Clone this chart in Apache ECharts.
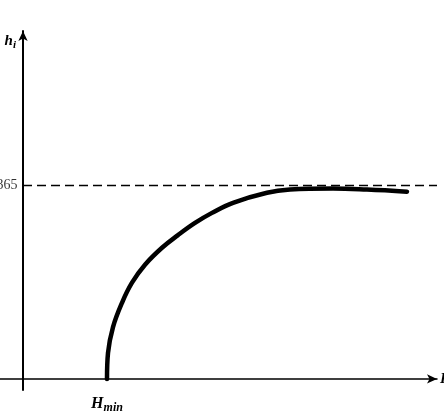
<!DOCTYPE html>
<html>
<head>
<meta charset="utf-8">
<script src="https://cdn.jsdelivr.net/npm/echarts@6/dist/echarts.min.js"></script>
<style>
  html, body { margin: 0; padding: 0; background: #fff; }
  #chart { width: 444px; height: 413px; }
</style>
</head>
<body>
<div id="chart"></div>
<script>
// curva h_i en funcion de H (unidades arbitrarias)
var curveX = [84, 85, 90, 99, 109, 122, 139, 155, 172, 189, 210, 244, 267, 310, 344, 384];
var curveY = [0, 49, 98, 144, 182, 216, 248, 272, 295, 314, 333, 352, 358, 360, 358, 354];
var limitX = [0, 414];
var limitY = [366, 366];
var hMin = 84;
var limitLabel = "365";

var serif = "'Liberation Serif', 'DejaVu Serif', serif";

document.addEventListener("DOMContentLoaded", () => {
  var chart = echarts.init(document.querySelector("#chart"));

  var curve = curveX.map(function (x, i) { return [x, curveY[i]]; });
  var limit = limitX.map(function (x, i) { return [x, limitY[i]]; });

  chart.setOption({
    animation: false,
    grid: { left: 0, right: 7, top: 31, bottom: 23, outerBoundsMode: "none", containLabel: false },
    xAxis: {
      type: "value",
      min: -23,
      max: 414,
      name: "H",
      nameLocation: "end",
      nameGap: 3,
      nameTextStyle: { fontFamily: serif, fontStyle: "italic", fontWeight: "bold", fontSize: 15, color: "#000" },
      axisLine: { onZero: true, symbol: ["none", "arrow"], symbolSize: [7, 10], lineStyle: { color: "#000", width: 1.5 } },
      axisTick: { show: false },
      splitLine: { show: false },
      axisLabel: {
        customValues: [hMin],
        margin: 3,
        formatter: function () { return "{b|H}{s|min}"; },
        rich: {
          b: { fontFamily: serif, fontStyle: "italic", fontWeight: "bold", fontSize: 16, color: "#000" },
          s: { fontFamily: serif, fontStyle: "italic", fontWeight: "bold", fontSize: 12, color: "#000", padding: [9, 0, 0, 0] }
        }
      }
    },
    yAxis: {
      type: "value",
      min: -21,
      max: 658,
      name: "{b|h}{s|i}",
      nameLocation: "end",
      nameGap: -20,
      nameTextStyle: {
        align: "right",
        padding: [0, 7, 0, 0],
        rich: {
          b: { fontFamily: serif, fontStyle: "italic", fontWeight: "bold", fontSize: 15, color: "#000" },
          s: { fontFamily: serif, fontStyle: "italic", fontWeight: "bold", fontSize: 11, color: "#000", padding: [8, 0, 0, 0] }
        }
      },
      axisLine: { show: true, onZero: true, symbol: ["none", "arrow"], symbolSize: [7, 10], lineStyle: { color: "#000", width: 2 } },
      axisTick: { show: false },
      splitLine: { show: false },
      axisLabel: { show: false }
    },
    series: [
      {
        type: "line",
        data: limit,
        symbol: "none",
        lineStyle: { color: "#000", width: 1.5, type: [9, 5] }
      },
      {
        // etiqueta 365 junto al eje
        type: "scatter",
        data: [limit[0]],
        symbolSize: 1,
        clip: false,
        itemStyle: { color: "rgba(0,0,0,0)" },
        label: {
          show: true,
          position: "left",
          distance: 5,
          formatter: limitLabel,
          fontFamily: serif,
          fontSize: 14,
          color: "#000"
        }
      },
      {
        type: "line",
        data: curve,
        smooth: 0.4,
        symbol: "none",
        lineStyle: { color: "#000", width: 4.5, cap: "round" }
      }
    ]
  });
});
</script>
</body>
</html>
